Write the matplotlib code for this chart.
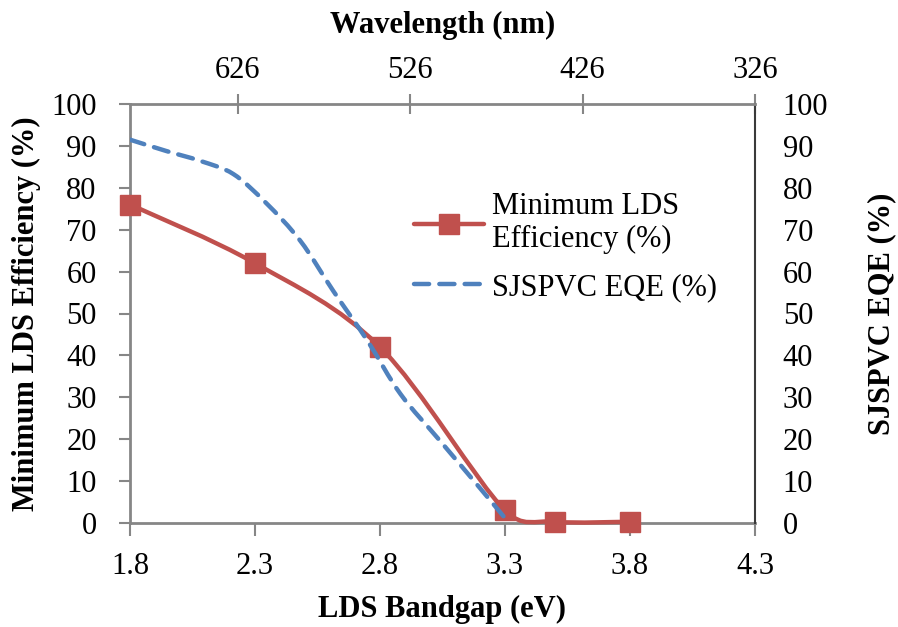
import numpy as np
import matplotlib
matplotlib.use("Agg")
import matplotlib.pyplot as plt
from matplotlib.path import Path
from matplotlib.patches import PathPatch
from matplotlib.lines import Line2D

# ---- data ----
bandgap_ev = [1.8, 2.3, 2.8, 3.3, 3.5, 3.8]
min_lds_eff = [76, 62, 42, 3, 0.3, 0.3]

eqe_wavelength = [689, 668, 648, 629, 610, 590, 571, 551, 532, 509, 486, 471]
eqe_values = [91.5, 88.8, 86.4, 83.3, 76.4, 67.3, 55.4, 43.4, 30.8, 19.6, 8.4, 1.0]

x_ticks = [1.8, 2.3, 2.8, 3.3, 3.8, 4.3]
y_ticks = [0, 10, 20, 30, 40, 50, 60, 70, 80, 90, 100]
wl_tick_labels = ["626", "526", "426", "326"]

plt.rcParams['font.family'] = ['Liberation Serif', 'DejaVu Serif']
FS = 22
RED = '#C0504D'
BLUE = '#4F81BD'
GRAY = '#868686'


def smooth_path(axis, xs, ys):
    """Excel-like smoothed line: cubic Bezier segments (Catmull-Rom handles,
    limited to half the segment length), computed in display space."""
    tr = axis.transData
    pts = tr.transform(np.column_stack([xs, ys]).astype(float))
    n = len(pts)
    verts = [pts[0]]
    codes = [Path.MOVETO]
    for i in range(n - 1):
        p0 = pts[i - 1] if i > 0 else pts[i]
        p1 = pts[i]
        p2 = pts[i + 1]
        p3 = pts[i + 2] if i + 2 < n else pts[i + 1]
        d12 = np.hypot(*(p2 - p1))
        h1 = (p2 - p0) / 6.0
        h2 = (p3 - p1) / 6.0
        for h in (h1, h2):
            L = np.hypot(*h)
            if L > 0.5 * d12 and L > 0:
                h *= 0.5 * d12 / L
        c1 = p1 + h1
        c2 = p2 - h2
        verts += [c1, c2, p2]
        codes += [Path.CURVE4] * 3
    verts = tr.inverted().transform(np.array(verts))
    return Path(verts, codes)


fig = plt.figure(figsize=(8.98, 6.27), dpi=100)
rect = [130 / 898, 1 - 523 / 627, 625 / 898, 419 / 627]
ax = fig.add_axes(rect)
ax2 = fig.add_axes(rect, label='secondary', facecolor='none')

# primary axes: bandgap / efficiency
ax.set_xlim(1.8, 4.3)
ax.set_ylim(0, 100)
ax.set_xticks(x_ticks)
ax.set_xticklabels([f"{v:.1f}" for v in x_ticks])
ax.set_yticks(y_ticks)
ax.tick_params(axis='x', direction='out', length=9, width=1.5, color=GRAY,
               labelsize=FS, pad=12)
ax.tick_params(axis='y', direction='out', length=8, width=1.5, color=GRAY,
               labelsize=FS, pad=16)
for s in ['top', 'right']:
    ax.spines[s].set_visible(False)
for s in ['left', 'bottom']:
    ax.spines[s].set_color(GRAY)
    ax.spines[s].set_linewidth(2)
ax.set_xlabel('LDS Bandgap (eV)', fontsize=FS, fontweight='bold', labelpad=10)
ax.set_ylabel('Minimum LDS Efficiency (%)', fontsize=FS, fontweight='bold', labelpad=7)

# secondary axes: wavelength / EQE
wl_left = 1240 / 1.8
wl_right = 1240 / 3.8
ax2.set_xlim(wl_left, wl_right)
ax2.set_ylim(0, 100)
wl_tick_pos = [wl_right + 100 * k for k in (3, 2, 1, 0)]
ax2.set_xticks(wl_tick_pos)
ax2.set_xticklabels(wl_tick_labels)
ax2.xaxis.tick_top()
ax2.xaxis.set_label_position('top')
ax2.yaxis.tick_right()
ax2.yaxis.set_label_position('right')
ax2.set_yticks(y_ticks)
ax2.tick_params(axis='x', direction='inout', length=14, width=1.5, color=GRAY,
                labelsize=FS, pad=7)
ax2.tick_params(axis='y', direction='out', length=0, width=1.5, color=GRAY,
                labelsize=FS, pad=20)
for s in ['left', 'bottom']:
    ax2.spines[s].set_visible(False)
ax2.spines['top'].set_color(GRAY)
ax2.spines['top'].set_linewidth(2)
ax2.spines['right'].set_color('#3a3a3a')
ax2.spines['right'].set_linewidth(1.5)
ax2.set_xlabel('Wavelength (nm)', fontsize=FS, fontweight='bold', labelpad=16)
ax2.set_ylabel('SJSPVC EQE (%)', fontsize=FS, fontweight='bold', labelpad=28)

# series
red_patch = PathPatch(smooth_path(ax, bandgap_ev, min_lds_eff), fill=False,
                      edgecolor=RED, linewidth=3.2, capstyle='round',
                      joinstyle='round', zorder=3, clip_on=False)
ax.add_patch(red_patch)
ax.plot(bandgap_ev, min_lds_eff, linestyle='none', marker='s', markersize=15,
        color=RED, zorder=4, clip_on=False)

blue_patch = PathPatch(smooth_path(ax2, eqe_wavelength, eqe_values), fill=False,
                       edgecolor=BLUE, linewidth=3.2, capstyle='round',
                       linestyle=(0, (3.4, 2.3)), zorder=5)
ax2.add_patch(blue_patch)

# legend
h_red = Line2D([], [], color=RED, linewidth=3.2, marker='s', markersize=15,
               solid_capstyle='round')
h_blue = Line2D([], [], color=BLUE, linewidth=3.2, linestyle=(0, (3.4, 2.3)),
                dash_capstyle='round')
leg = ax2.legend([h_red, h_blue], ['Minimum LDS\nEfficiency (%)', 'SJSPVC EQE (%)'],
                 loc='upper left', bbox_to_anchor=(414 / 898, 1 - 192 / 627),
                 bbox_transform=fig.transFigure, frameon=False, fontsize=FS,
                 handlelength=2.3, handletextpad=0.25, labelspacing=0.6,
                 borderpad=0, borderaxespad=0)

fig.savefig('out.png', dpi=100)
